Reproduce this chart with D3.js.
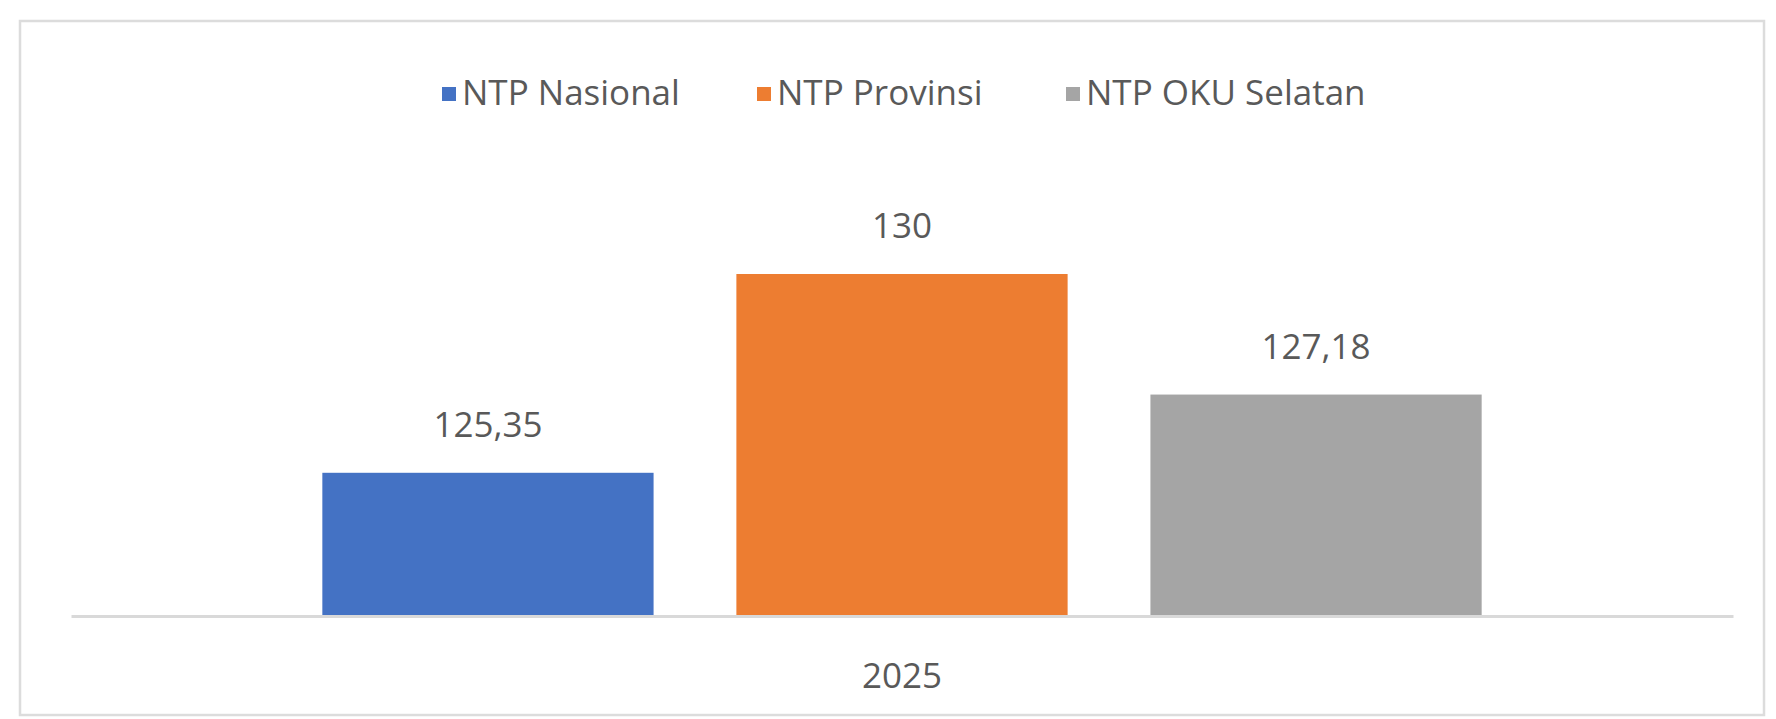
<!DOCTYPE html>
<html>
<head>
<meta charset="utf-8">
<script src="https://cdn.jsdelivr.net/npm/d3@7"></script>
<style>
  body { margin: 0; background: #fff; }
  text { font-family: "Open Sans", "Noto Sans", sans-serif; fill: #595959; }
</style>
</head>
<body>
<div id="chart"></div>
<script>
// data
var categories = ["2025"];
var seriesNames = ["NTP Nasional", "NTP Provinsi", "NTP OKU Selatan"];
var seriesValues = [125.35, 130, 127.18];
var yDomain = [122, 132];

var colors = ["#4472C4", "#ED7D31", "#A5A5A5"];

var width = 1776, height = 719;
var fmt = d3.formatLocale({ decimal: ",", thousands: ".", grouping: [3], currency: ["", ""] }).format(".2~f");

var svg = d3.select("#chart").append("svg")
  .attr("width", width)
  .attr("height", height);

svg.append("rect").attr("width", width).attr("height", height).attr("fill", "#fff");

// chart frame
svg.append("rect")
  .attr("x", 20).attr("y", 21)
  .attr("width", 1744).attr("height", 694)
  .attr("fill", "none")
  .attr("stroke", "#dcdcdc")
  .attr("stroke-width", 2.5);

var x0 = d3.scaleBand()
  .domain(categories)
  .range([71, 1733])
  .paddingInner(0)
  .paddingOuter(0.2168);

var x1 = d3.scaleBand()
  .domain(seriesNames)
  .range([0, x0.bandwidth()])
  .paddingInner(0.2);

var y = d3.scaleLinear()
  .domain(yDomain)
  .range([616, 188.5]);

var color = d3.scaleOrdinal().domain(seriesNames).range(colors);

// bars
var groups = svg.append("g")
  .selectAll("g")
  .data(categories)
  .enter().append("g")
  .attr("transform", function(d) { return "translate(" + x0(d) + ",0)"; });

var bars = groups.selectAll("g")
  .data(function() {
    return seriesNames.map(function(s, i) { return { key: s, value: seriesValues[i] }; });
  })
  .enter().append("g");

bars.append("rect")
  .attr("x", function(d) { return x1(d.key); })
  .attr("y", function(d) { return y(d.value); })
  .attr("width", x1.bandwidth())
  .attr("height", function(d) { return y(yDomain[0]) - y(d.value); })
  .attr("fill", function(d) { return color(d.key); });

bars.append("text")
  .attr("x", function(d) { return x1(d.key) + x1.bandwidth() / 2; })
  .attr("y", function(d) { return y(d.value) - 36; })
  .attr("text-anchor", "middle")
  .style("font-size", "35px")
  .text(function(d) { return fmt(d.value); });

// category axis
var axis = svg.append("g")
  .attr("transform", "translate(0," + y(yDomain[0]) + ")")
  .call(d3.axisBottom(x0).tickSize(0).tickSizeOuter(0).tickPadding(47));

axis.select(".domain")
  .attr("stroke", "#d9d9d9")
  .attr("stroke-width", 3);

axis.selectAll("text")
  .style("font-size", "35px")
  .attr("fill", "#595959");

// legend
var legendX = [442, 757, 1066];
var legend = svg.append("g")
  .selectAll("g")
  .data(seriesNames)
  .enter().append("g")
  .attr("transform", function(d, i) { return "translate(" + legendX[i] + ",0)"; });

legend.append("rect")
  .attr("x", 0).attr("y", 87)
  .attr("width", 14).attr("height", 14)
  .attr("fill", function(d) { return color(d); });

legend.append("text")
  .attr("x", 20)
  .attr("y", 105)
  .style("font-size", "35px")
  .text(function(d) { return d; });
</script>
</body>
</html>
